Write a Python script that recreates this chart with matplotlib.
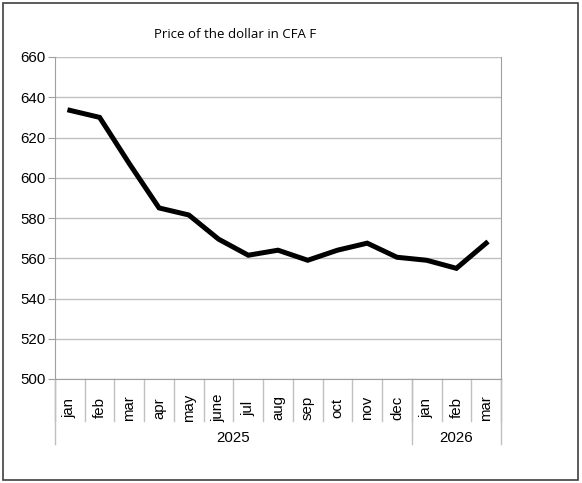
import matplotlib.pyplot as plt
from matplotlib.patches import Rectangle
import matplotlib.transforms as mtransforms

# data
months = ["jan", "feb", "mar", "apr", "may", "june", "jul", "aug", "sep",
          "oct", "nov", "dec", "jan", "feb", "mar"]
years = ["2025", "2026"]
months_per_year = [12, 3]
price = [633.5, 630, 607, 585, 581.5, 569.5, 561.5, 564, 559,
         564, 567.5, 560.5, 559, 555, 567.5]

W, H = 582, 483
fig = plt.figure(figsize=(W / 100, H / 100), dpi=100)
plt.rcParams['font.family'] = ['Liberation Sans', 'DejaVu Sans']

# plot area in pixels
left, right, top, bottom = 55, 501, 57, 379
ax = fig.add_axes([left / W, 1 - bottom / H, (right - left) / W, (bottom - top) / H])

x = list(range(len(months)))
ax.plot(x, price, color="black", lw=3.6, solid_joinstyle="miter", zorder=3)

ax.set_xlim(-0.5, len(months) - 0.5)
ax.set_ylim(500, 660)
ax.set_yticks(range(500, 661, 20))
ax.tick_params(axis="y", labelsize=10.8, length=5, color="#a0a0a0", pad=2)
ax.set_xticks([])
ax.grid(axis="y", color="#c0c0c0", lw=1)
ax.set_axisbelow(True)
for side in ["left", "right", "bottom"]:
    ax.spines[side].set_color("#a0a0a0")
ax.spines["top"].set_visible(False)

# category labels (two levels)
trans = mtransforms.blended_transform_factory(ax.transData, fig.transFigure)
month_y = 1 - 408 / H
sep_bot_m = 1 - 421 / H
sep_bot_y = 1 - 444 / H
axis_y = 1 - bottom / H
for i, m in enumerate(months):
    ax.text(i, month_y, m, transform=trans, rotation=90, ha="center",
            va="center", fontsize=10.8)
for i in range(len(months) + 1):
    ax.plot([i - 0.5, i - 0.5], [axis_y, sep_bot_m], transform=trans,
            color="#c0c0c0", lw=1, clip_on=False)

start = 0
year_edges = [start]
for n in months_per_year:
    start += n
    year_edges.append(start)
for k, yr in enumerate(years):
    a, b = year_edges[k], year_edges[k + 1]
    ax.text((a + b - 1) / 2, 1 - 438 / H, yr, transform=trans, ha="center",
            va="center", fontsize=10.8)
for e in year_edges:
    ax.plot([e - 0.5, e - 0.5], [axis_y, sep_bot_y], transform=trans,
            color="#c0c0c0", lw=1, clip_on=False)

fig.text(235 / W, 1 - 34 / H, "Price of the dollar in CFA F", ha="center",
         va="center", fontsize=9.5, family=["Open Sans", "DejaVu Sans"])

# chart border
fig.patches.append(Rectangle((3 / W, 3 / H), 575 / W, 477 / H,
                             transform=fig.transFigure, fill=False,
                             edgecolor="#404040", lw=1.2))

fig.savefig("out.png", dpi=100)
